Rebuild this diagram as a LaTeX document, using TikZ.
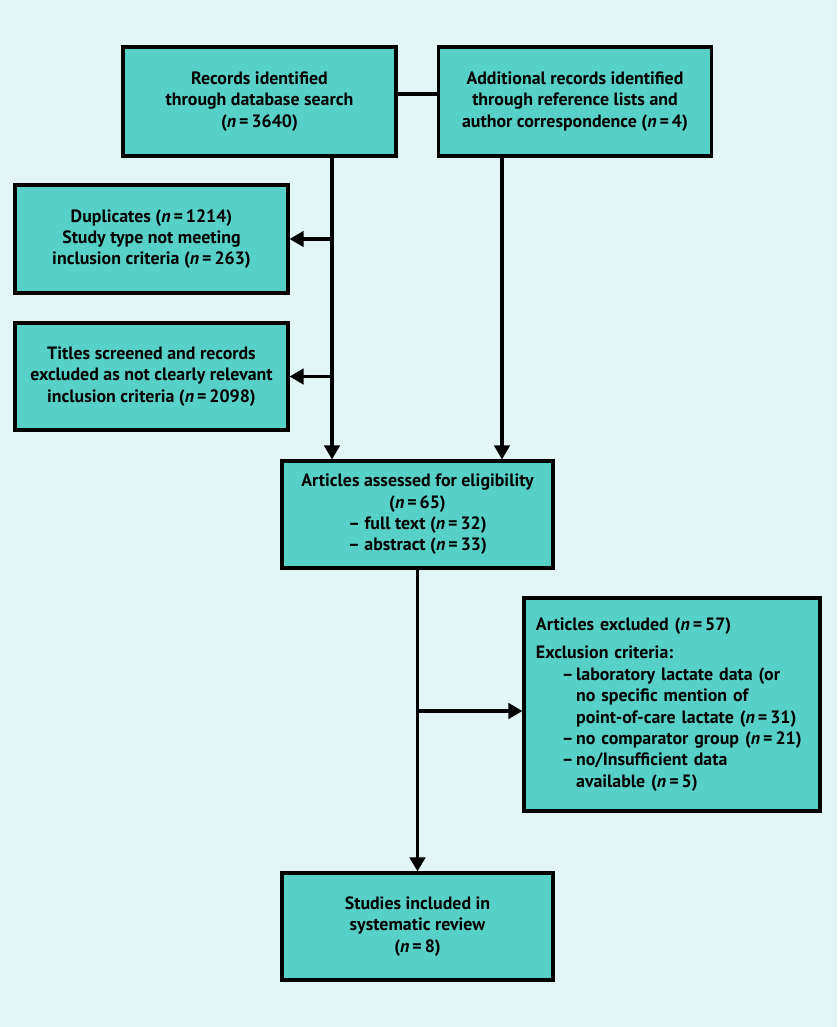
\documentclass[tikz,border=0pt]{standalone}
\usepackage{fontspec}
\setmainfont{PT Sans}
\usetikzlibrary{calc}
\usetikzlibrary{positioning}
\usetikzlibrary{arrows.meta}
\definecolor{pagebg}{RGB}{225,246,245}
\definecolor{boxfill}{RGB}{87,208,200}

\begin{document}
\begin{tikzpicture}[x=0.025cm, y=-0.025cm,
    flowbox/.style={draw=black, line width=2.2pt, fill=boxfill, inner sep=0pt,
      font=\bfseries\fontsize{12.7}{15.2}\selectfont, align=center},
    link/.style={line width=2.2pt},
    >={Triangle[length=10pt,width=11pt]}]
      \fill[pagebg] (0,0) rectangle (837,1027);
      \useasboundingbox (0,0) rectangle (837,1027);

      % boxes
      \node[flowbox, minimum width=6.825cm, minimum height=2.725cm] (rec) at (259.5,101.5)
        {Records identified\\ through database search\\ (\textit{n}\,=\,3640)};
      \node[flowbox, minimum width=6.825cm, minimum height=2.725cm] (add) at (575,101.5)
        {Additional records identified\\ through reference lists and\\ author correspondence (\textit{n}\,=\,4)};
      \node[flowbox, minimum width=6.825cm, minimum height=2.7cm] (dup) at (151.5,239)
        {Duplicates (\textit{n}\,=\,1214)\\ Study type not meeting\\ inclusion criteria (\textit{n}\,=\,263)};
      \node[flowbox, minimum width=6.825cm, minimum height=2.675cm] (tit) at (151.5,376.5)
        {Titles screened and records\\ excluded as not clearly relevant\\ inclusion criteria (\textit{n}\,=\,2098)};
      \node[flowbox, minimum width=6.775cm, minimum height=2.675cm] (art) at (417.5,514.5)
        {Articles assessed for eligibility\\ (\textit{n}\,=\,65)\\ -- full text (\textit{n}\,=\,32)\\ -- abstract (\textit{n}\,=\,33)};
      \node[flowbox, minimum width=7.4cm, minimum height=5.325cm, align=left,
        text width=6.8cm] (exc) at (672,704.5)
        {Articles excluded (\textit{n}\,=\,57)\\[5pt]
         Exclusion criteria:\\
         \hspace*{1.45em}\makebox[0.8em][l]{--}laboratory lactate data (or\\
         \hspace*{2.25em}no specific mention of\\
         \hspace*{2.25em}point-of-care lactate (\textit{n}\,=\,31)\\
         \hspace*{1.45em}\makebox[0.8em][l]{--}no comparator group (\textit{n}\,=\,21)\\
         \hspace*{1.45em}\makebox[0.8em][l]{--}no/Insufficient data\\
         \hspace*{2.25em}available (\textit{n}\,=\,5)};
      \node[flowbox, minimum width=6.775cm, minimum height=2.675cm] (inc) at (417.5,926.5)
        {Studies included in\\ systematic review\\ (\textit{n}\,=\,8)};

      % connectors
      \coordinate (top) at (0,94);
      \coordinate (left) at (332,0);
      \coordinate (right) at (502,0);
      \coordinate (split) at (0,711);
      \draw[link] (rec.east |- top) -- (add.west |- top);
      \draw[link, ->] (rec.south -| left) -- (art.north -| left);
      \draw[link, ->] (left |- dup.east) -- (dup.east);
      \draw[link, ->] (left |- tit.east) -- (tit.east);
      \draw[link, ->] (add.south -| right) -- (art.north -| right);
      \draw[link, ->] (art.south) -- (inc.north);
      \draw[link, ->] (art.south |- split) -- (exc.west |- split);
\end{tikzpicture}
\end{document}
